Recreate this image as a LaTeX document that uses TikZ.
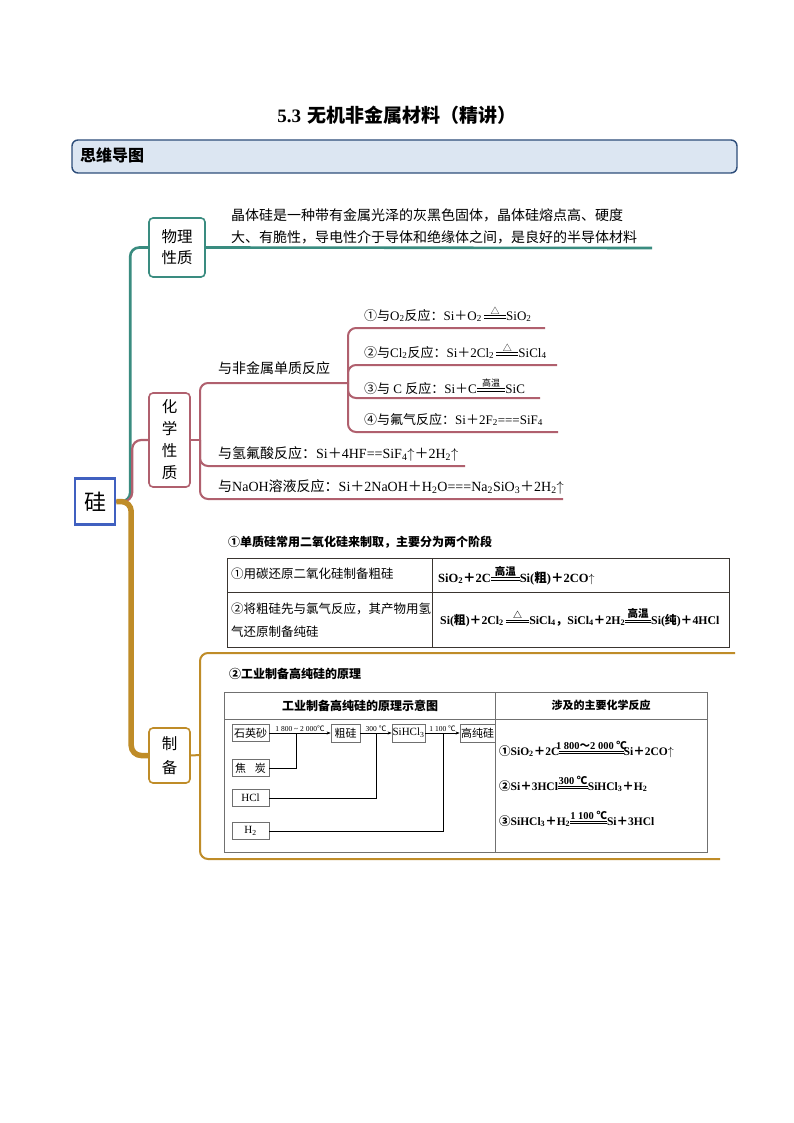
\documentclass[tikz,border=0pt]{standalone}
\usepackage{fontspec}
\setmainfont{Liberation Serif}
\newfontfamily\cjk{Noto Sans CJK SC}
\usetikzlibrary{arrows.meta,calc}
\definecolor{cteal}{HTML}{3A8C80}
\definecolor{cmar}{HTML}{B0606E}
\definecolor{cgold}{HTML}{BF8C28}
\definecolor{cblue}{HTML}{4060C0}
\definecolor{chdr}{HTML}{2D4D7A}
\definecolor{chfill}{HTML}{DCE6F2}
\definecolor{cgray}{HTML}{707070}
\definecolor{ctab}{HTML}{3A3530}
\newcommand{\z}[1]{{\cjk #1}}
\newcommand{\sub}[1]{\textsubscript{#1}}
\newcommand{\fs}[1]{\fontsize{#1}{#1}\selectfont}
\newcommand{\eqc}[2][1.7em]{\raisebox{0.3ex}{\vbox{\hbox to #1{\hss\fontsize{9}{9}\selectfont #2\hss}\kern0.8pt\hrule width #1 height 0.6pt\kern1.6pt\hrule width #1 height 0.6pt}}}
\begin{document}
\begin{tikzpicture}[x=1pt,y=-1pt,
  tealc/.style={draw=cteal,line width=2.6pt},
  marc/.style={draw=cmar,line width=2.2pt},
  goldc/.style={draw=cgold,line width=2pt},
  mbox/.style={draw,fill=white,rounded corners=4pt,line width=1.6pt,inner sep=0pt,align=center},
  txt/.style={anchor=base west,inner sep=0pt},
  fbox/.style={draw=cgray,line width=0.8pt,inner sep=0pt,fill=white},
  tline/.style={draw=ctab,line width=0.9pt},
  gline/.style={draw=cgray,line width=0.9pt},
  arr/.style={draw=black,line width=0.6pt,-{Stealth[length=4pt,width=3pt]}},
  conn/.style={draw=black,line width=0.6pt},
]
\fill[white] (0,0) rectangle (794,1123);
\useasboundingbox (0,0) rectangle (794,1123);

% title and header
\node[font=\cjk\bfseries\fs{19}] (title) at (397,115) {{\rmfamily 5.3}\hspace{0.35em}无机非金属材料（精讲）};
\node[draw=chdr,fill=chfill,line width=1.4pt,rounded corners=6pt,minimum width=665pt,minimum height=33pt,inner sep=0pt] (hdr) at (404.5,156.5) {};
\node[txt,font=\cjk\bfseries\fs{16}] (hdrt) at (80,162) {思维导图};

% root
\node[draw=cblue,line width=2.6pt,fill=white,minimum width=40pt,minimum height=46pt,inner sep=0pt,font=\cjk\fs{22}] (si) at (95,501.5) {硅};

% branch boxes
\node[mbox,draw=cteal,minimum width=56pt,minimum height=59pt,font=\cjk\fontsize{15.5}{21}\selectfont] (phy) at (177,247.5) {物理\\性质};
\node[mbox,draw=cmar,minimum width=41pt,minimum height=94pt,font=\cjk\fontsize{15.5}{22}\selectfont] (chem) at (169.5,440) {化\\学\\性\\质};
\node[mbox,draw=cgold,minimum width=41pt,minimum height=55pt,font=\cjk\fontsize{15.5}{24}\selectfont] (prep) at (169.5,755.5) {制\\备};

% trunks
\draw[tealc,rounded corners=9pt] (si.east) -| ([xshift=-18pt]phy.west) -- (phy.west);
\draw[marc,rounded corners=9pt] (si.east) -| ([xshift=-16pt]chem.west) -- (chem.west);
\draw[cgold,line width=5.5pt,rounded corners=10pt] (si.east) -| ([xshift=-17pt]prep.west) -- (prep.west);

% physical properties
\coordinate (pe) at (652,248);
\draw[tealc] (phy.east) -- (pe);
\node[txt,font=\cjk\fs{14}] (p1) at (231,221) {晶体硅是一种带有金属光泽的灰黑色固体，晶体硅熔点高、硬度};
\node[txt,font=\cjk\fs{14}] (p2) at (231,242) {大、有脆性，导电性介于导体和绝缘体之间，是良好的半导体材料};

% chemical properties
\coordinate (cj) at (200,440);
\coordinate (c1) at (348,383);
\coordinate (hfe) at (465,466);
\coordinate (nae) at (563,499);
\coordinate (e1) at (545,328);
\coordinate (e2) at (557,365);
\coordinate (e3) at (540,398);
\coordinate (e4) at (558,432);
\draw[marc] (chem.east) -- (cj);
\draw[marc,line width=2pt,rounded corners=8pt] (cj) |- (c1);
\draw[marc,line width=2pt,rounded corners=8pt] (cj) |- (hfe);
\draw[marc,line width=2pt,rounded corners=8pt] (cj) |- (nae);
\draw[marc,line width=2pt,rounded corners=8pt] (c1) |- (e1);
\draw[marc,line width=2pt,rounded corners=8pt] (c1) |- (e2);
\draw[marc,line width=2pt,rounded corners=8pt] (c1) |- (e3);
\draw[marc,line width=2pt,rounded corners=8pt] (c1) |- (e4);
\node[txt,font=\cjk\fs{14}] (nm) at (218,373) {与非金属单质反应};
\node[txt,font=\fs{13}] (r1) at (364,320) {\z{①与}O\sub{2}\z{反应：}Si\z{＋}O\sub{2}\,\eqc{\z{△}}SiO\sub{2}};
\node[txt,font=\fs{13}] (r2) at (364,357) {\z{②与}Cl\sub{2}\z{反应：}Si\z{＋}2Cl\sub{2}\,\eqc{\z{△}}SiCl\sub{4}};
\node[txt,font=\fs{13}] (r3) at (364,393) {\z{③与} C \z{反应：}Si\z{＋}C\eqc[2.2em]{\z{高温}}SiC};
\node[txt,font=\fs{13}] (r4) at (364,424) {\z{④与氟气反应：}Si\z{＋}2F\sub{2}===SiF\sub{4}};
\node[txt,font=\fs{14}] (hf) at (218,458) {\z{与氢氟酸反应：}Si\z{＋}4HF==SiF\sub{4}$\uparrow$\z{＋}2H\sub{2}$\uparrow$};
\node[txt,font=\fs{14}] (na) at (218,491) {\z{与}NaOH\z{溶液反应：}Si\z{＋}2NaOH\z{＋}H\sub{2}O===Na\sub{2}SiO\sub{3}\z{＋}2H\sub{2}$\uparrow$};

% preparation branch
\coordinate (cp) at (200,755);
\coordinate (g1) at (735,653);
\coordinate (g2) at (720,859);
\draw[goldc] (prep.east) -- (cp);
\draw[goldc,rounded corners=8pt] (cp) |- (g1);
\draw[goldc,rounded corners=8pt] (cp) |- (g2);

% table 1
\node[txt,font=\cjk\bfseries\fs{12}] (t1title) at (228,546) {①单质硅常用二氧化硅来制取，主要分为两个阶段};
\draw[tline] (227,558) rectangle (729,647);
\draw[tline] (227,592) -- (729,592);
\draw[tline] (432,558) -- (432,647);
\node[txt,font=\cjk\fs{12.5}] (a1) at (231,578) {①用碳还原二氧化硅制备粗硅};
\node[txt,font=\cjk\fs{12.5}] (a2) at (231,613) {②将粗硅先与氯气反应，其产物用氢};
\node[txt,font=\cjk\fs{12.5}] (a3) at (231,636) {气还原制备纯硅};
\node[txt,font=\bfseries\fs{12.5}] (b1) at (438,582) {SiO\sub{2}\z{＋}2C\eqc[2.3em]{\fs{10.5}\z{高温}}Si(\z{粗})\z{＋}2CO$\uparrow$};
\node[txt,font=\bfseries\fs{11.8}] (b2) at (440,624) {Si(\z{粗})\z{＋}2Cl\sub{2}\,\eqc[2em]{\z{△}}SiCl\sub{4}\z{，}SiCl\sub{4}\z{＋}2H\sub{2}\eqc[2.2em]{\fs{10.5}\z{高温}}Si(\z{纯})\z{＋}4HCl};

% section 2
\node[txt,font=\cjk\bfseries\fs{12}] (t2title) at (229,678) {②工业制备高纯硅的原理};
\draw[gline] (224,692) rectangle (707,852);
\draw[gline] (224,719) -- (707,719);
\draw[gline] (495,692) -- (495,852);
\node[font=\cjk\bfseries\fs{12}] (h1) at (360,705.5) {工业制备高纯硅的原理示意图};
\node[font=\cjk\bfseries\fs{11}] (h2) at (601,705.5) {涉及的主要化学反应};

% flow diagram
\node[fbox,minimum width=37pt,minimum height=17pt,font=\cjk\fs{11}] (qs) at (250.5,733) {石英砂};
\node[fbox,minimum width=29pt,minimum height=18pt,font=\cjk\fs{11}] (cg) at (345.5,733) {粗硅};
\node[fbox,minimum width=33pt,minimum height=18pt,font=\fs{11}] (sh) at (408.5,733) {SiHCl\sub{3}};
\node[fbox,minimum width=35pt,minimum height=18pt,font=\cjk\fs{11}] (gc) at (477.5,733) {高纯硅};
\node[fbox,minimum width=37pt,minimum height=17pt,font=\cjk\fs{11}] (jt) at (250.5,768) {焦\hspace{0.8em}炭};
\node[fbox,minimum width=37pt,minimum height=17pt,font=\fs{11}] (hcl) at (250.5,798) {HCl};
\node[fbox,minimum width=37pt,minimum height=17pt,font=\fs{11}] (h2n) at (250.5,831) {H\sub{2}};
\draw[arr] (qs.east) -- (cg.west) node[midway,above=0pt,inner sep=1pt,font=\fs{7.5}] (l1) {1 800 \textasciitilde{} 2 000\z{℃}};
\draw[arr] (cg.east) -- (sh.west) node[midway,above=0pt,inner sep=1pt,font=\fs{7.5}] (l2) {300 \z{℃}};
\draw[arr] (sh.east) -- (gc.west) node[midway,above=0pt,inner sep=1pt,font=\fs{7.5}] (l3) {1 100 \z{℃}};
\coordinate (j1) at (296,733);
\coordinate (j2) at (376,733);
\coordinate (j3) at (443,733);
\draw[conn] (jt.east) -| (j1);
\draw[conn] (hcl.east) -| (j2);
\draw[conn] (h2n.east) -| (j3);

% reactions
\node[txt,font=\bfseries\fs{11.5}] (x1) at (499,755) {\z{①}SiO\sub{2}\z{＋}2C\eqc[5.6em]{\fs{10.5}1 800\z{～}2 000 \z{℃}}Si\z{＋}2CO$\uparrow$};
\node[txt,font=\bfseries\fs{11.5}] (x2) at (499,790) {\z{②}Si\z{＋}3HCl\eqc[2.6em]{\fs{10.5}300 \z{℃}}SiHCl\sub{3}\z{＋}H\sub{2}};
\node[txt,font=\bfseries\fs{11.5}] (x3) at (499,825) {\z{③}SiHCl\sub{3}\z{＋}H\sub{2}\eqc[3.2em]{\fs{10.5}1 100 \z{℃}}Si\z{＋}3HCl};
\end{tikzpicture}
\end{document}
